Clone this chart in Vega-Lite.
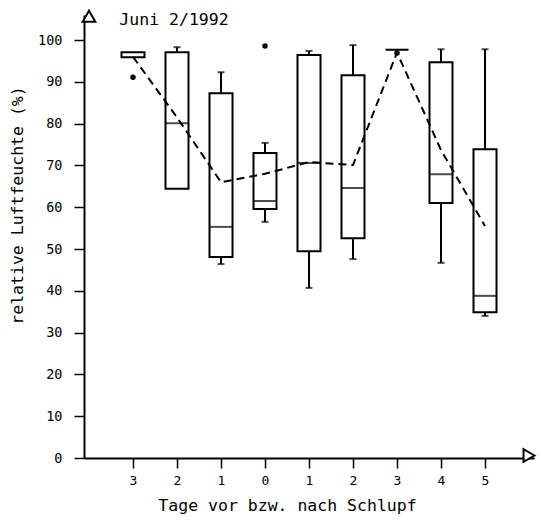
{
  "$schema": "https://vega.github.io/schema/vega-lite/v6.json",
  "width": 450,
  "height": 443,
  "autosize": {"type": "none"},
  "padding": {"left": 84, "top": 15, "right": 7, "bottom": 62},
  "background": "white",
  "config": {
    "view": {"stroke": null},
    "font": "DejaVu Sans Mono",
    "axis": {"grid": false, "domainColor": "black", "tickColor": "black", "labelColor": "black", "titleColor": "black", "labelFont": "DejaVu Sans Mono", "titleFont": "DejaVu Sans Mono", "titleFontWeight": "normal"}
  },
  "datasets": {
    "boxes": [
      {"x": -3, "q1": 95.9, "q3": 97.1},
      {"x": -2, "q1": 64.4, "q3": 97.1},
      {"x": -1, "q1": 48.1, "q3": 87.3},
      {"x": 0, "q1": 59.6, "q3": 73.0},
      {"x": 1, "q1": 49.5, "q3": 96.4},
      {"x": 2, "q1": 52.6, "q3": 91.6},
      {"x": 3, "q1": 97.7, "q3": 97.7},
      {"x": 4, "q1": 61.0, "q3": 94.7},
      {"x": 5, "q1": 34.9, "q3": 73.9}
    ],
    "medians": [
      {"x": -2, "med": 80.1},
      {"x": -1, "med": 55.3},
      {"x": 0, "med": 61.5},
      {"x": 1, "med": 70.6},
      {"x": 2, "med": 64.6},
      {"x": 4, "med": 67.9},
      {"x": 5, "med": 38.8}
    ],
    "whiskers": [
      {"x": -2, "from": 97.1, "to": 98.3},
      {"x": -1, "from": 87.3, "to": 92.3},
      {"x": -1, "from": 48.1, "to": 46.4},
      {"x": 0, "from": 73.0, "to": 75.4},
      {"x": 0, "from": 59.6, "to": 56.5},
      {"x": 1, "from": 96.4, "to": 97.4},
      {"x": 1, "from": 49.5, "to": 40.7},
      {"x": 2, "from": 91.6, "to": 98.8},
      {"x": 2, "from": 52.6, "to": 47.6},
      {"x": 4, "from": 94.7, "to": 97.8},
      {"x": 4, "from": 61.0, "to": 46.7},
      {"x": 5, "from": 73.9, "to": 97.8},
      {"x": 5, "from": 34.9, "to": 34.0}
    ],
    "outliers": [
      {"x": -3, "v": 91.1},
      {"x": 0, "v": 98.6},
      {"x": 3, "v": 96.9}
    ],
    "means": [
      {"x": -3, "m": 96.0},
      {"x": -2, "m": 81.5},
      {"x": -1, "m": 66.0},
      {"x": 0, "m": 68.0},
      {"x": 1, "m": 70.8},
      {"x": 2, "m": 70.1},
      {"x": 3, "m": 97.0},
      {"x": 4, "m": 73.7},
      {"x": 5, "m": 55.5}
    ],
    "arrows": [
      {"x": -4, "y": 105.7, "shape": "triangle-up"},
      {"x": 6, "y": 0.6, "shape": "triangle-right"}
    ],
    "label": [
      {"x": -3.31, "y": 104.8, "text": "Juni 2/1992"}
    ]
  },
  "layer": [
    {
      "data": {"name": "whiskers"},
      "mark": {"type": "rule", "color": "black", "strokeWidth": 2},
      "encoding": {
        "x": {"field": "x", "type": "quantitative", "scale": {"domain": [-4, 6], "nice": false, "zero": false},
          "axis": {"values": [-3, -2, -1, 0, 1, 2, 3, 4, 5], "labelExpr": "abs(datum.value)", "tickSize": 10, "tickWidth": 1.5, "domainWidth": 2, "labelFontSize": 13, "labelPadding": 6,
            "title": "Tage vor bzw. nach Schlupf", "titleFontSize": 16.5, "titleX": 203, "titlePadding": 10}},
        "y": {"field": "from", "type": "quantitative", "scale": {"domain": [0, 106], "nice": false},
          "axis": {"values": [0, 10, 20, 30, 40, 50, 60, 70, 80, 90, 100], "tickSize": 10, "tickWidth": 1.5, "domainWidth": 2, "labelFontSize": 13.5, "labelPadding": 12,
            "title": "relative Luftfeuchte (%)", "titleFontSize": 16.5, "titleX": -59, "titleY": 190}},
        "y2": {"field": "to"}
      }
    },
    {
      "data": {"name": "whiskers"},
      "mark": {"type": "tick", "orient": "horizontal", "color": "black", "size": 7, "thickness": 2},
      "encoding": {
        "x": {"field": "x", "type": "quantitative"},
        "y": {"field": "to", "type": "quantitative"}
      }
    },
    {
      "data": {"name": "boxes"},
      "mark": {"type": "bar", "width": 23, "fill": "white", "stroke": "black", "strokeWidth": 2},
      "encoding": {
        "x": {"field": "x", "type": "quantitative"},
        "y": {"field": "q1", "type": "quantitative"},
        "y2": {"field": "q3"}
      }
    },
    {
      "data": {"name": "medians"},
      "mark": {"type": "tick", "orient": "horizontal", "color": "black", "size": 23, "thickness": 2},
      "encoding": {
        "x": {"field": "x", "type": "quantitative"},
        "y": {"field": "med", "type": "quantitative"}
      }
    },
    {
      "data": {"name": "means"},
      "mark": {"type": "line", "color": "black", "strokeWidth": 2, "strokeDash": [8, 5]},
      "encoding": {
        "x": {"field": "x", "type": "quantitative"},
        "y": {"field": "m", "type": "quantitative"}
      }
    },
    {
      "data": {"name": "outliers"},
      "mark": {"type": "point", "filled": true, "color": "black", "size": 30, "opacity": 1},
      "encoding": {
        "x": {"field": "x", "type": "quantitative"},
        "y": {"field": "v", "type": "quantitative"}
      }
    },
    {
      "data": {"name": "arrows"},
      "mark": {"type": "point", "filled": true, "fill": "white", "stroke": "black", "strokeWidth": 2, "size": 160, "opacity": 1},
      "encoding": {
        "x": {"field": "x", "type": "quantitative"},
        "y": {"field": "y", "type": "quantitative"},
        "shape": {"field": "shape", "type": "nominal", "scale": null}
      }
    },
    {
      "data": {"name": "label"},
      "mark": {"type": "text", "align": "left", "baseline": "middle", "fontSize": 16.5, "font": "DejaVu Sans Mono", "color": "black"},
      "encoding": {
        "x": {"field": "x", "type": "quantitative"},
        "y": {"field": "y", "type": "quantitative"},
        "text": {"field": "text"}
      }
    }
  ]
}
